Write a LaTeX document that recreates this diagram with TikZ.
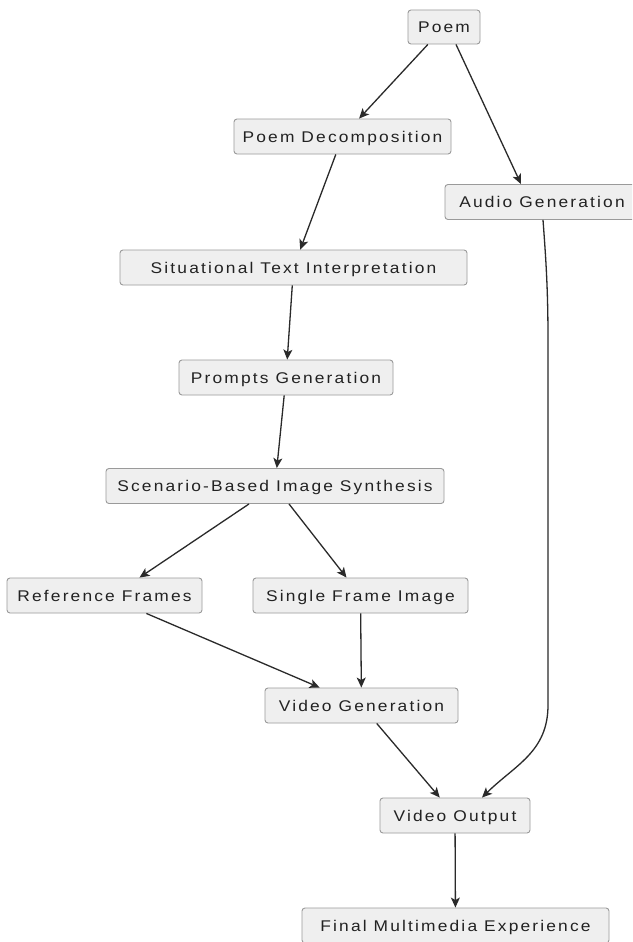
\documentclass[tikz,border=0pt]{standalone}
\usepackage{fontspec}
\newfontfamily\labfont[FakeStretch=1.12,LetterSpace=14]{Liberation Sans}
\usetikzlibrary{arrows.meta,calc}
\definecolor{boxfill}{HTML}{EFEFEF}
\definecolor{boxline}{HTML}{9A9A9A}
\definecolor{edgecol}{HTML}{2A2A2A}
\definecolor{txt}{HTML}{222222}
\begin{document}
\begin{tikzpicture}[x=1pt,y=-1pt,
  box/.style={draw=boxline, fill=boxfill, rounded corners=3pt, line width=0.9pt,
    minimum height=35pt, inner sep=0pt, text=txt, text height=11pt, text depth=0pt,
    font=\labfont\fontsize{15.5}{18}\selectfont},
  edge/.style={draw=edgecol, line width=1.3pt,
    -{Stealth[length=10pt,width=9pt,inset=2.5pt]}}]
\useasboundingbox (0,0) rectangle (632,942);
\fill[white] (0,0) rectangle (632,942);
\clip (0,0) rectangle (632,942);
\node[box, minimum width=72pt, minimum height=34pt] (poem) at (444,27) {Poem};
\node[box, minimum width=217pt] (pd) at (342.5,136.5) {Poem Decomposition};
\node[box, minimum width=194pt] (audio) at (542,202) {Audio Generation};
\node[box, minimum width=347pt] (sit) at (293.5,267.5) {Situational Text Interpretation};
\node[box, minimum width=214pt] (pg) at (286,377.5) {Prompts Generation};
\node[box, minimum width=338pt] (sc) at (275,486) {Scenario-Based Image Synthesis};
\node[box, minimum width=195pt] (rf) at (104.5,595.5) {Reference Frames};
\node[box, minimum width=215pt] (sf) at (360.5,595.5) {Single Frame Image};
\node[box, minimum width=193pt] (vg) at (361.5,705.5) {Video Generation};
\node[box, minimum width=150pt] (vo) at (455,815.5) {Video Output};
\node[box, minimum width=307pt] (fm) at (455.5,925.5) {Final Multimedia Experience};

\draw[edge] (poem) -- (pd);
\draw[edge] ($(poem.south)+(12,0)$) -- ($(audio.north)+(-21,0)$);
\draw[edge] (pd) -- (sit);
\draw[edge] (sit) -- (pg);
\draw[edge] (pg) -- (sc);
\draw[edge] ($(sc.south)+(-26,0)$) -- ($(rf.north)+(35,0)$);
\draw[edge] (sc) -- (sf);
\draw[edge] (rf) -- (vg);
\draw[edge] (sf) -- (vg);
\draw[edge] (vg) -- (vo);
\draw[edge] (vo) -- (fm);
\draw[edge] ($(audio.south)+(1,0)$) .. controls (546,260) and (548,290) .. (548,340)
  -- (548,705) .. controls (548,752) and (515,765) .. ($(vo.north)+(27,0)$);
\end{tikzpicture}
\end{document}
